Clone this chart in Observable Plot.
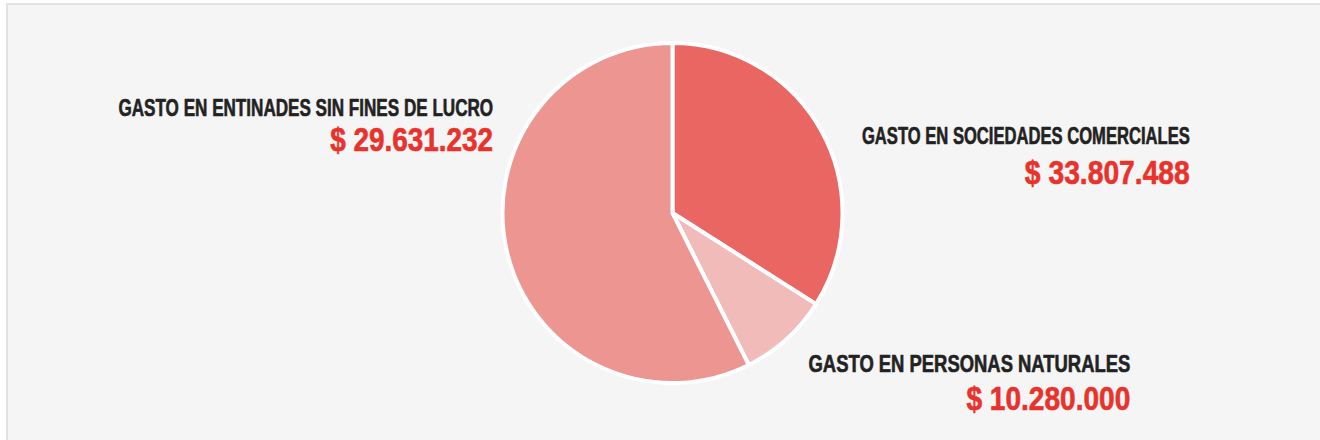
<!DOCTYPE html>
<html><head><meta charset="utf-8">
<script src="https://cdn.jsdelivr.net/npm/d3@7"></script>
<script src="https://cdn.jsdelivr.net/npm/@observablehq/plot@0.6"></script>
<style>
html,body{margin:0;padding:0;background:#fff;width:1320px;height:440px;overflow:hidden}
#panel{position:absolute;left:6px;top:3px;width:1314px;height:437px;background:#f5f5f5;border-top:2px solid #e2e2e2;border-left:2px solid #e2e2e2;box-sizing:border-box}
#chart{position:absolute;left:0;top:0;width:1320px;height:440px;overflow:hidden}
#chart svg{background:transparent;display:block}
</style></head><body><div id="panel"></div><div id="chart"></div>
<script>
// Data
const categories = ["GASTO EN SOCIEDADES COMERCIALES", "GASTO EN PERSONAS NATURALES", "GASTO EN ENTINADES SIN FINES DE LUCRO"];
const amounts = [33807488, 10280000, 29631232];          // values printed in the labels
const sliceShares = [34.0, 8.6, 57.4];                   // slice sizes as drawn in the picture (%)

// Styles / layout (not data)
const sliceColors = ["#EA6662", "#F1BBBA", "#ED9591"];
const labelPos = [ // in pie-radius units relative to pie centre (x right, y up)
  {u: 3.04, v: 0.41, v2: 0.175},
  {u: 2.69, v: -0.93, v2: -1.155},
  {u: -1.058, v: 0.576, v2: 0.37}
];
const pie = {cx: 672.5, cy: 213, r: 170};
// rendered widths (px) of the labels in the condensed face of the original
const titleWidths = [328, 322, 375];
const amountWidths = [165, 164, 163];

const fmt = d3.formatLocale({decimal: ",", thousands: ".", grouping: [3], currency: ["$ ", ""]}).format("$,");

const rows = categories.map((c, i) => ({
  category: c, amount: fmt(amounts[i]), share: sliceShares[i], color: sliceColors[i],
  u: labelPos[i].u, v: labelPos[i].v, v2: labelPos[i].v2
}));

const font = '"Liberation Sans", Arial, sans-serif';

function pieMark(index, scales) {
  const sx = scales && scales.x ? scales.x : (t => pie.cx + pie.r * t);
  const sy = scales && scales.y ? scales.y : (t => pie.cy - pie.r * t);
  const cx = sx(0), cy = sy(0), R = sx(1) - sx(0);
  const arcs = d3.pie().sort(null).value(d => d.share)(rows);
  const g = d3.create("svg:g").attr("transform", `translate(${cx},${cy})`);
  g.selectAll("path").data(arcs).join("path")
    .attr("d", d3.arc().innerRadius(0).outerRadius(R))
    .attr("fill", d => d.data.color)
    .attr("stroke", "#ffffff")
    .attr("stroke-width", 4)
    .attr("stroke-linejoin", "round");
  return g.node();
}

const chart = Plot.plot({
  width: 1320,
  height: 440,
  margin: 0,
  x: {domain: [-1, 1], range: [pie.cx - pie.r, pie.cx + pie.r], axis: null},
  y: {domain: [-1, 1], range: [pie.cy + pie.r, pie.cy - pie.r], axis: null},
  style: {background: "transparent", overflow: "visible"},
  marks: [
    pieMark,
    Plot.text(rows, {x: "u", y: "v", text: "category", textAnchor: "end", lineAnchor: "bottom",
      fill: "#222222", stroke: "#222222", strokeWidth: 0.6, fontSize: 23, fontWeight: "bold", fontFamily: font}),
    Plot.text(rows, {x: "u", y: "v2", text: "amount", textAnchor: "end", lineAnchor: "bottom",
      fill: "#E8322B", stroke: "#E8322B", strokeWidth: 0.6, fontSize: 32.5, fontWeight: "bold", fontFamily: font})
  ]
});
document.getElementById("chart").appendChild(chart);

// emulate the bold condensed face by horizontally scaling each label about its anchor
const targetWidths = [titleWidths, amountWidths];
chart.querySelectorAll('g[aria-label="text"]').forEach((g, k) => {
  const texts = Array.from(g.querySelectorAll("text"));
  texts.forEach((t, i) => {
    const f = targetWidths[k][i] / t.getComputedTextLength();
    const tr = t.getAttribute("transform");
    if (tr) t.setAttribute("transform", tr + ` scale(${f},1)`);
    else {
      const x = +t.getAttribute("x") || 0;
      t.setAttribute("transform", `translate(${x},0) scale(${f},1) translate(${-x},0)`);
    }
  });
});
</script>
</body></html>
